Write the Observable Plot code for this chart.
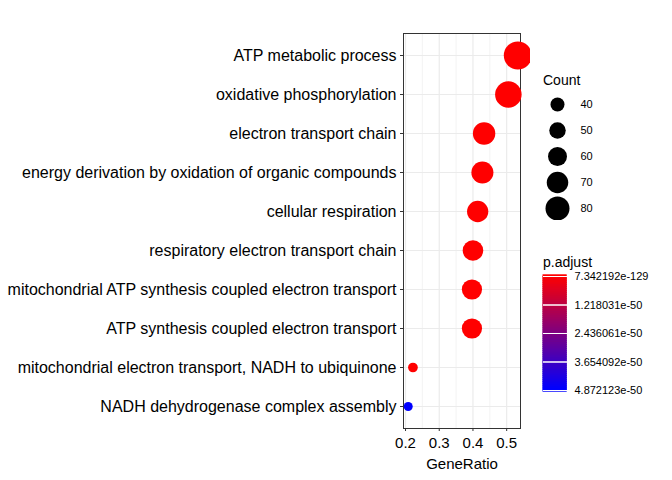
<!DOCTYPE html>
<html><head>
<script src="https://cdn.jsdelivr.net/npm/d3@7"></script>
<script src="https://cdn.jsdelivr.net/npm/@observablehq/plot@0.6"></script>
<style>
body{margin:0;background:#fff;font-family:"Liberation Sans",Arial,sans-serif;}
#wrap{position:relative;width:672px;height:480px;}
#wrap > div{position:absolute;}
.ttl{font-size:14px;color:#000;}
</style></head>
<body>
<div id="wrap">
  <div id="chart" style="left:0;top:0"></div>
  <div class="ttl" style="left:543px;top:72px">Count</div>
  <div id="size" style="left:536px;top:90px"></div>
  <div class="ttl" style="left:543px;top:254px">p.adjust</div>
  <div id="color" style="left:536px;top:268px"></div>
</div>
<script>
const terms = [
  "ATP metabolic process",
  "oxidative phosphorylation",
  "electron transport chain",
  "energy derivation by oxidation of organic compounds",
  "cellular respiration",
  "respiratory electron transport chain",
  "mitochondrial ATP synthesis coupled electron transport",
  "ATP synthesis coupled electron transport",
  "mitochondrial electron transport, NADH to ubiquinone",
  "NADH dehydrogenase complex assembly"
];
const geneRatio = [0.533, 0.505, 0.433, 0.428, 0.414, 0.400, 0.397, 0.397, 0.222, 0.208];
const counts = [85, 81, 70, 69, 67, 65, 64, 64, 36, 34];
const padj = [7.342192e-129, 3e-120, 2e-110, 5e-108, 1e-105, 4e-100, 2e-98, 2e-98, 1e-60, 4.872123e-50];
const sizeBreaks = [40, 50, 60, 70, 80];
const colorTicks = [7.342192e-129, 1.218031e-50, 2.436061e-50, 3.654092e-50, 4.872123e-50];

const data = terms.map((t, i) => ({term: t, ratio: geneRatio[i], count: counts[i], p: padj[i]}));
const rScale = {type: "linear", domain: [34, 85], range: [4.5, 14]};
const colorScale = {type: "linear", domain: [colorTicks[0], colorTicks[4]], range: ["red", "blue"]};
const fmt = d3.format(".6e");

const chart = Plot.plot({
  width: 530, height: 480,
  marginLeft: 403, marginRight: 10, marginTop: 33, marginBottom: 52,
  style: {fontFamily: "Liberation Sans, Arial, sans-serif", fontSize: "14px", color: "#000"},
  x: {domain: [0.194, 0.541], label: "GeneRatio"},
  y: {type: "point", domain: terms, padding: 0.55, label: null},
  r: rScale, color: colorScale,
  marks: [
    Plot.gridX([0.25, 0.35, 0.45], {stroke: "#ebebeb", strokeOpacity: 1, strokeWidth: 0.6}),
    Plot.gridX([0.2, 0.3, 0.4, 0.5], {stroke: "#ebebeb", strokeOpacity: 1, strokeWidth: 1.2}),
    Plot.gridY(terms, {stroke: "#ebebeb", strokeOpacity: 1, strokeWidth: 1.2}),
    Plot.frame({stroke: "#333"}),
    Plot.dot(data, {x: "ratio", y: "term", r: "count", fill: "p"}),
    Plot.axisX({ticks: [0.2, 0.3, 0.4, 0.5], tickFormat: d3.format(".1f"), fontSize: 15, label: "GeneRatio", labelAnchor: "center", labelArrow: "none", labelOffset: 40, tickSize: 3, stroke: "#333"}),
    Plot.axisY({fontSize: 16, tickSize: 3, tickPadding: 4, label: null, stroke: "#333"})
  ]
});
document.getElementById("chart").append(chart);

const sizeLeg = Plot.plot({
  width: 100, height: 130, marginLeft: 0, marginRight: 0, marginTop: 12, marginBottom: 10,
  style: {fontFamily: "Liberation Sans, Arial, sans-serif", fontSize: "11px"},
  x: {domain: [0, 1], axis: null},
  y: {type: "point", domain: sizeBreaks, axis: null, padding: 0.05},
  r: {type: "linear", domain: [40, 80], range: [7, 12]},
  marks: [
    Plot.dot(sizeBreaks, {x: () => 0.21, y: d => d, r: d => d, fill: "black"}),
    Plot.text(sizeBreaks, {x: () => 0.44, y: d => d, text: d => String(d), textAnchor: "start", fontSize: 11})
  ]
});
document.getElementById("size").append(sizeLeg);

const steps = d3.range(0, 60).map(i => colorTicks[0] + (colorTicks[4] - colorTicks[0]) * i / 59);
const dv = (colorTicks[4] - colorTicks[0]) / 59;
const colorLeg = Plot.plot({
  width: 136, height: 130, marginLeft: 7, marginRight: 0, marginTop: 8, marginBottom: 8,
  style: {fontFamily: "Liberation Sans, Arial, sans-serif", fontSize: "11px"},
  x: {domain: [0, 1], axis: null},
  y: {domain: [colorTicks[4], colorTicks[0]], axis: null},
  color: colorScale,
  marks: [
    Plot.rect(steps, {x1: 0, x2: 0.18, y1: d => d - dv * 0.6, y2: d => d + dv * 0.6, fill: d => d, stroke: d => d, inset: 0}),
    Plot.tickY(colorTicks, {y: d => d, x1: 0, x2: 0.04, stroke: "white"}),
    Plot.tickY(colorTicks, {y: d => d, x1: 0.14, x2: 0.18, stroke: "white"}),
    Plot.text(colorTicks, {x: () => 0.24, y: d => d, text: d => fmt(d), textAnchor: "start", fontSize: 11})
  ]
});
document.getElementById("color").append(colorLeg);
</script>
</body></html>
